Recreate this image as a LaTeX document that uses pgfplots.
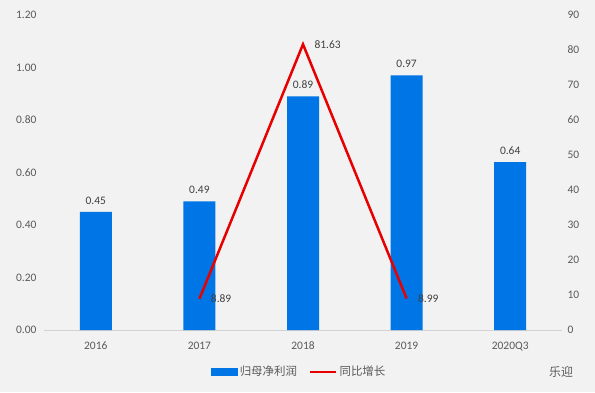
\documentclass[border=0pt]{standalone}
\usepackage{fontspec}
\setmainfont{Carlito}
\newfontfamily\cjk{Noto Sans CJK SC}
\usepackage{pgfplots}
\pgfplotsset{compat=1.18}
\definecolor{bg}{RGB}{242,242,242}
\definecolor{barblue}{RGB}{0,118,230}
\definecolor{linered}{RGB}{232,0,0}
\definecolor{txt}{RGB}{89,89,89}
\definecolor{lbl}{RGB}{64,64,64}
\definecolor{base}{RGB}{210,210,210}
\begin{document}
\begin{tikzpicture}[x=1bp,y=1bp]
\fill[bg] (0,0) rectangle (595,392);
\pgfplotsset{
  common/.style={
    at={(44bp,62bp)}, anchor=south west, scale only axis,
    width=518bp, height=315bp,
    xmin=-0.5, xmax=4.5,
    clip=false,
    tick style={draw=none},
    ticklabel style={font=\fontsize{11.5}{13}\selectfont, text=txt},
  }
}
\begin{axis}[common,
  ymin=0, ymax=1.2,
  ytick={0,0.2,0.4,0.6,0.8,1.0,1.2},
  yticklabel style={/pgf/number format/fixed, /pgf/number format/fixed zerofill, /pgf/number format/precision=2, /pgf/number format/assume math mode=true, xshift=-4bp},
  xtick={0,1,2,3,4}, xticklabels={2016,2017,2018,2019,2020Q3},
  xticklabel style={yshift=-4bp},
  axis y line*=left, axis x line*=bottom,
  y axis line style={draw=none},
  x axis line style={draw=base, line width=0.8bp, -},
  ybar, bar width=32bp,
  nodes near coords,
  nodes near coords style={font=\fontsize{11.5}{13}\selectfont, text=lbl, /pgf/number format/fixed, /pgf/number format/fixed zerofill, /pgf/number format/precision=2, /pgf/number format/assume math mode=true},
  every node near coord/.append style={yshift=4bp},
]
\addplot[fill=barblue, draw=none] coordinates {(0,0.45) (1,0.49) (2,0.89) (3,0.97) (4,0.64)};
\end{axis}
\begin{axis}[common,
  ymin=0, ymax=90,
  ytick={0,10,20,30,40,50,60,70,80,90},
  yticklabel style={/pgf/number format/assume math mode=true, xshift=2bp},
  axis y line*=right, axis x line=none,
  y axis line style={draw=none},
  xtick=\empty,
  legend style={at={(0.493,-0.133)}, anchor=center, draw=none, fill=none,
    text=txt, legend columns=2,
    font=\fontsize{11.5}{13}\selectfont\cjk,
    /tikz/every even column/.append style={column sep=10bp}},
  legend cell align=left,
]
\addlegendimage{legend image code/.code={\fill[barblue] (0bp,-3.5bp) rectangle (26bp,3.5bp);}}
\addlegendentry{归母净利润}
\addplot[linered, line width=2.5bp,
  nodes near coords, point meta=explicit symbolic,
  nodes near coords style={font=\fontsize{11.5}{13}\selectfont, text=lbl, anchor=west, xshift=7bp},
  legend image code/.code={\draw[linered, line width=2.5bp] (0bp,0bp) -- (26bp,0bp);}]
  coordinates {(1,8.89) [8.89] (2,81.63) [81.63] (3,8.99) [8.99]};
\addlegendentry{同比增长}
\end{axis}
\node[font=\cjk\fontsize{12}{14}\selectfont, text=txt, anchor=center] at (561,20) {乐迎};
\end{tikzpicture}
\end{document}
